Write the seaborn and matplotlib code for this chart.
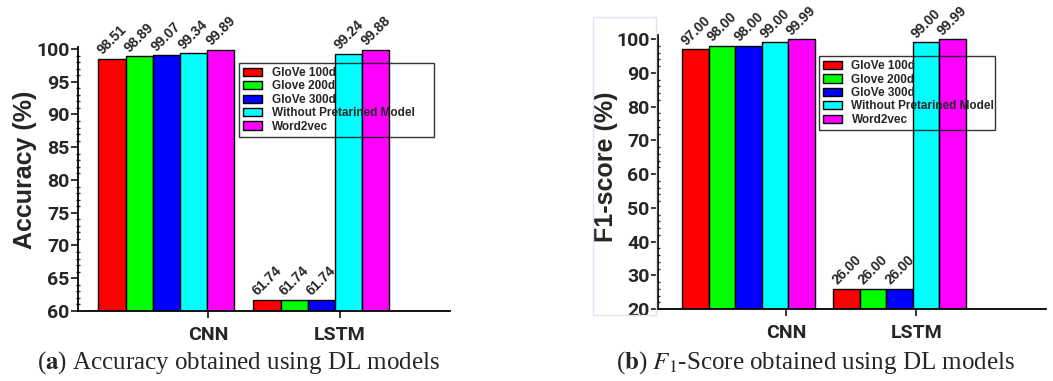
import pandas as pd
import seaborn as sns
import matplotlib.pyplot as plt
from matplotlib.patches import Patch, Rectangle
from matplotlib.ticker import MultipleLocator

models = ["CNN", "LSTM"]
embeddings = ["GloVe 100d", "Glove 200d", "GloVe 300d", "Without Pretarined Model", "Word2vec"]
colors = ["#ff0000", "#00ff00", "#0000ff", "#00ffff", "#ff00ff"]

accuracy_cnn = [98.51, 98.89, 99.07, 99.34, 99.89]
accuracy_lstm = [61.74, 61.74, 61.74, 99.24, 99.88]
f1_cnn = [97.00, 98.00, 98.00, 99.00, 99.99]
f1_lstm = [26.00, 26.00, 26.00, 99.00, 99.99]


def make_df(cnn, lstm):
    rows = []
    for emb, v in zip(embeddings, cnn):
        rows.append({"model": "CNN", "embedding": emb, "value": v})
    for emb, v in zip(embeddings, lstm):
        rows.append({"model": "LSTM", "embedding": emb, "value": v})
    return pd.DataFrame(rows)


sns.set_style("white")
narrow = ["Roboto", "Liberation Sans"]
plt.rcParams["font.family"] = ["Liberation Sans", "DejaVu Sans"]
plt.rcParams["mathtext.fontset"] = "stix"

W, H = 1053, 381
fig = plt.figure(figsize=(W / 100, H / 100), dpi=100)


def px_axes(x0, x1, ytop, ybot):
    return fig.add_axes([x0 / W, 1 - ybot / H, (x1 - x0) / W, (ybot - ytop) / H])


def panel(ax, df, ylabel, ylim, major, minor, xlim, ticks, legend_box, label_xy):
    sns.barplot(data=df, x="model", y="value", hue="embedding", palette=colors,
                saturation=1, width=0.877, edgecolor="black", linewidth=1.0, ax=ax,
                legend=False, order=models, hue_order=embeddings)
    for c in ax.containers:
        ax.bar_label(c, fmt="%.2f", rotation=45, padding=1, fontsize=10,
                     fontweight="bold")
    ax.set_ylim(*ylim)
    ax.set_xlim(*xlim)
    ax.yaxis.set_major_locator(MultipleLocator(major))
    ax.yaxis.set_minor_locator(MultipleLocator(minor))
    ax.set_xticks(ticks, models)
    for lab in ax.get_xticklabels() + ax.get_yticklabels():
        lab.set_family(narrow)
        lab.set_fontweight("bold")
        lab.set_fontsize(14)
    ax.tick_params(axis="y", which="major", direction="out", length=5, width=1.3, left=True, pad=1)
    ax.tick_params(axis="y", which="minor", direction="inout", length=3, width=1.0, left=True)
    ax.tick_params(axis="x", which="major", direction="out", length=5, width=1.3, bottom=True, pad=6)
    ax.set_xlabel("")
    ax.set_ylabel(ylabel, fontsize=18, fontweight="bold")
    ax.yaxis.set_label_coords(*label_xy)
    for s in ["top", "right"]:
        ax.spines[s].set_visible(False)
    for s in ["left", "bottom"]:
        ax.spines[s].set_color("black")
        ax.spines[s].set_linewidth(1.3)
    handles = [Patch(facecolor=c, edgecolor="black", linewidth=1.0) for c in colors]
    leg = ax.legend(handles, embeddings, loc="upper left", bbox_to_anchor=legend_box,
                    mode="expand", frameon=True, fancybox=False, facecolor="none",
                    edgecolor="black", prop={"weight": "bold", "size": 8.5},
                    handlelength=1.6, handleheight=0.7, labelspacing=0.12,
                    borderpad=0.35, handletextpad=0.8, borderaxespad=0)
    leg.get_frame().set_linewidth(1.0)
    leg.set_zorder(5)


ax1 = px_axes(78, 450, 47, 311)
panel(ax1, make_df(accuracy_cnn, accuracy_lstm), "Accuracy (%)", (60, 100.3), 5, 1,
      (-0.57, 1.83), [0.27, 1.12], (0.433, 0.94, 0.524, 0), (-0.11, 0.534))

ax2 = px_axes(658, 1046, 35, 309)
panel(ax2, make_df(f1_cnn, f1_lstm), "F1-score (%)", (20, 101.2), 10, 2,
      (-0.60, 1.97), [0.25, 1.11], (0.415, 0.923, 0.454, 0), (-0.103, 0.52))

# faint frame around the y axis area of panel (b)
fig.patches.append(Rectangle((593 / W, 1 - 315 / H), 63 / W, 298 / H, transform=fig.transFigure,
                             fill=False, edgecolor="#e2e2f6", linewidth=1.0))

serif = ["Liberation Serif", "DejaVu Serif"]
fig.text(238 / W, 1 - 363 / H, r"($\mathbf{a}$) Accuracy obtained using DL models",
         ha="center", va="center", fontsize=18, family=serif)
fig.text(815 / W, 1 - 363 / H, r"($\mathbf{b}$) $F_1$-Score obtained using DL models",
         ha="center", va="center", fontsize=18, family=serif)

fig.savefig("out.png", dpi=100)
